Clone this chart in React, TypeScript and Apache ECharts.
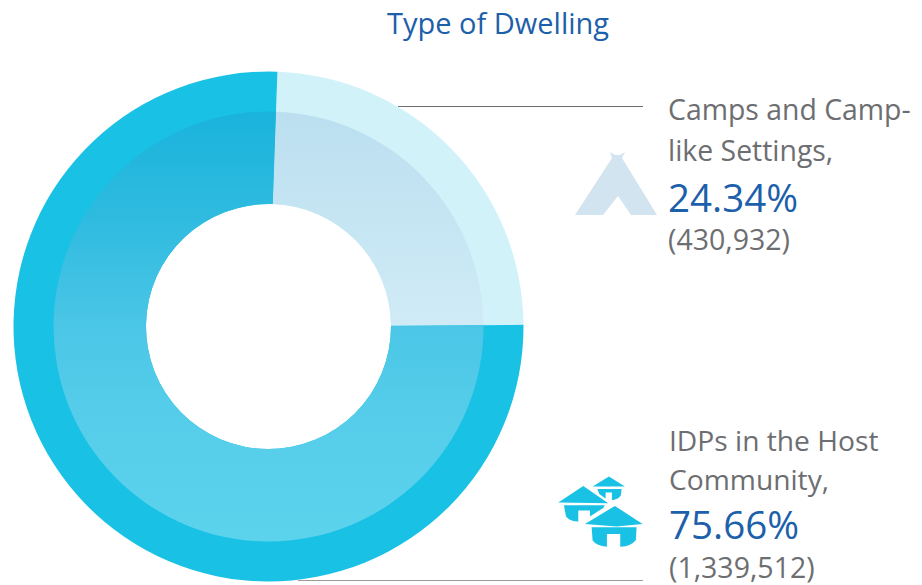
import React, { useEffect, useRef } from "react";
import * as echarts from "echarts";

const chartTitle = "Type of Dwelling";
const categories = ["Camps and Camp-like Settings", "IDPs in the Host Community"];
const counts = [430932, 1339512];
const nameLines = [["Camps and Camp-", "like Settings,"], ["IDPs in the Host", "Community,"]];
const percentLabels = ["24.34%", "75.66%"];
const countLabels = ["(430,932)", "(1,339,512)"];

const FONT = "'Open Sans', 'Noto Sans', sans-serif";
const GREY = "#6d6e71";
const BLUE = "#1d60aa";

const housesPath =
  "M55 248 L130 198 L205 250 Z " +
  "M158 200 L207 170 L255 200 Z " +
  "M172 207 L245 207 L243 226 Q236 238 220 240 L216 240 L216 218 L197 218 L197 236 L178 222 Z " +
  "M72 256 L195 256 L190 264 L150 290 L150 272 L115 272 L115 305 Q90 305 78 290 Z " +
  "M135 312 L225 258 L308 312 L230 320 Z " +
  "M155 322 L290 322 L288 360 Q275 378 241 381 L241 342 L201 342 L201 381 Q170 378 158 362 Z";
echarts.graphic.registerShape("houses", echarts.graphic.extendPath(housesPath, {}) as any);

const grad = (stops: [number, string][]) => ({
  type: "linear", x: 0, y: 111, x2: 0, y2: 541, global: true,
  colorStops: stops.map(([offset, color]) => ({ offset, color })),
});

const text = (x: number, baseline: number, t: string, size: number, fill: string) => ({
  type: "text", x, y: baseline - 0.888 * size,
  style: { text: t, fontFamily: FONT, fontSize: size, fill },
});

export default function App() {
  const ref = useRef<HTMLDivElement>(null);
  useEffect(() => {
    const chart = echarts.init(ref.current!, null, { renderer: "svg" });
    const base = { type: "pie", center: [268.5, 326.5], startAngle: 88, clockwise: true, silent: true, label: { show: false }, labelLine: { show: false } };
    chart.setOption({
      animation: false,
      series: [
        {
          ...base, radius: [122.5, 255], z: 1,
          data: categories.map((name, i) => ({ name, value: counts[i], itemStyle: { color: i === 0 ? "#d2f2f9" : "#19c1e5" } })),
        },
        {
          ...base, radius: [122.5, 215], z: 2,
          data: categories.map((name, i) => ({
            name, value: counts[i],
            itemStyle: {
              color: i === 0
                ? grad([[0, "#bbdff0"], [0.5, "#d0ebf6"], [1, "#d4edf7"]])
                : grad([[0, "#1ab3db"], [0.25, "#2fbbe0"], [0.5, "#4bc6e6"], [0.7, "#55cdea"], [1, "#5cd3ed"]]),
            },
          })),
        },
      ],
      graphic: [
        text(387, 34, chartTitle, 29, BLUE),
        { type: "line", shape: { x1: 398, y1: 106.5, x2: 643, y2: 106.5 }, style: { stroke: GREY, lineWidth: 1 } },
        { type: "line", shape: { x1: 298, y1: 580.5, x2: 643, y2: 580.5 }, style: { stroke: "#9a9a9a", lineWidth: 1 } },
        text(668, 120, nameLines[0][0], 28.4, GREY),
        text(668, 161, nameLines[0][1], 28.4, GREY),
        text(668, 212, percentLabels[0], 38.5, BLUE),
        text(668, 250, countLabels[0], 28.5, GREY),
        text(669, 451, nameLines[1][0], 28.2, GREY),
        text(669, 490, nameLines[1][1], 28.2, GREY),
        text(669, 539, percentLabels[1], 38.5, BLUE),
        text(669, 578, countLabels[1], 28.5, GREY),
        { type: "polygon", shape: { points: [[612, 158], [610, 152], [615, 155], [620, 155], [625, 152], [622, 158], [657, 215], [631, 215], [618, 196], [603, 215], [575, 215]] }, style: { fill: "#d3e4f1" } },
        { type: "houses", x: 540, y: 420, scaleX: 1 / 3, scaleY: 1 / 3, style: { fill: "#19c1e5" } },
      ],
    });
    return () => chart.dispose();
  }, []);
  return <div ref={ref} style={{ position: "absolute", left: 0, top: 0, width: 922, height: 585 }} />;
}
